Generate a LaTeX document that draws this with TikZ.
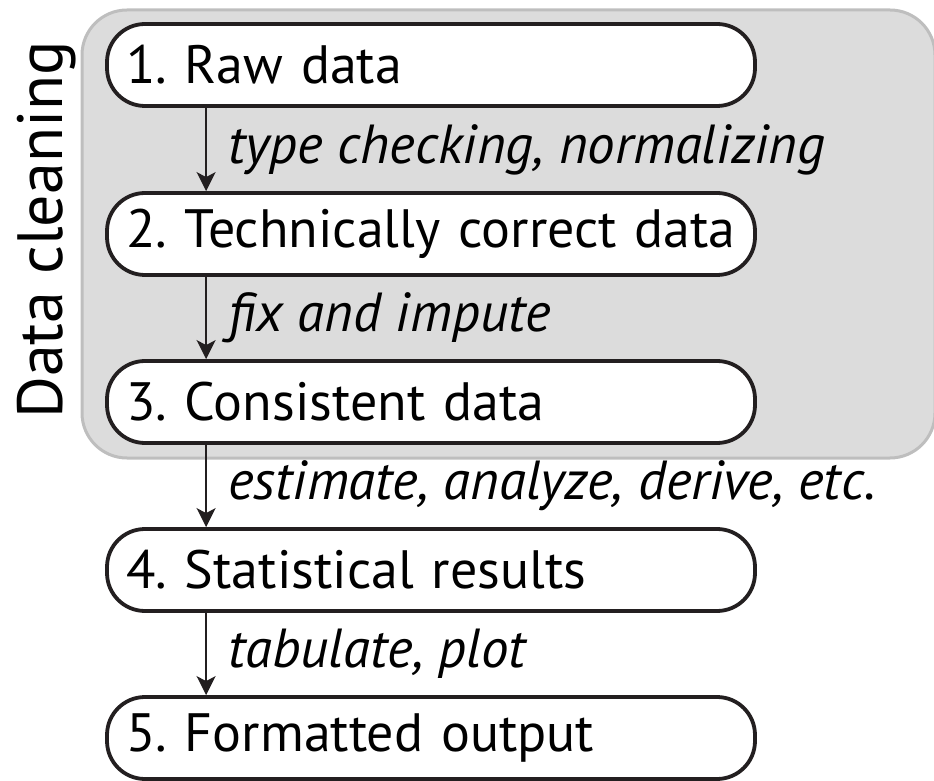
\documentclass[tikz,border=0pt]{standalone}
\usepackage{fontspec}
\setmainfont{PT Sans}
\usetikzlibrary{arrows.meta}
\definecolor{cleanfill}{HTML}{DCDCDC}
\definecolor{cleanline}{HTML}{BEBEBE}
\definecolor{ink}{HTML}{231F20}
\frenchspacing
\begin{document}
\begin{tikzpicture}[x=1pt,y=1pt,
  stepbox/.style={draw=ink, line width=3.8pt, fill=white, rounded corners=38pt,
    minimum width=648pt, minimum height=82pt, text width=630pt, inner xsep=9pt,
    align=left, font=\fontsize{54}{58}\selectfont, text=black},
  lab/.style={anchor=west, font=\fontsize{55}{60}\selectfont\itshape, text=black, inner sep=0pt},
  arr/.style={draw=ink, line width=1.8pt, -{Stealth[length=19pt,width=19pt,inset=5pt]}},
  cleanbox/.style={draw=cleanline, line width=3pt, fill=cleanfill, rounded corners=45pt}]
\useasboundingbox (0,0) rectangle (934,780);
\path[cleanbox] (82,770) rectangle (935,322);
\node[rotate=90, anchor=base, inner sep=0pt, font=\fontsize{64}{68}\selectfont, text=black] (dc) at (62,550) {Data cleaning};
\node[stepbox] (n1) at (431,715) {\hspace*{10pt}1. Raw data};
\node[stepbox] (n2) at (431,546) {\hspace*{10pt}2. Technically correct data};
\node[stepbox] (n3) at (431,378) {\hspace*{10pt}3. Consistent data};
\node[stepbox] (n4) at (431,210) {\hspace*{10pt}4. Statistical results};
\node[stepbox] (n5) at (431,42) {\hspace*{10pt}5. Formatted output};
\draw[arr] ([xshift=101pt]n1.south west) -- ([xshift=101pt]n2.north west);
\draw[arr] ([xshift=101pt]n2.south west) -- ([xshift=101pt]n3.north west);
\draw[arr] ([xshift=101pt]n3.south west) -- ([xshift=101pt]n4.north west);
\draw[arr] ([xshift=101pt]n4.south west) -- ([xshift=101pt]n5.north west);
\node[lab] (l1) at (228,630) {type checking, normalizing};
\node[lab] (l2) at (228,462) {fix and impute};
\node[lab] (l3) at (228,294) {estimate, analyze, derive, etc.};
\node[lab] (l4) at (228,126) {tabulate, plot};
\end{tikzpicture}
\end{document}
